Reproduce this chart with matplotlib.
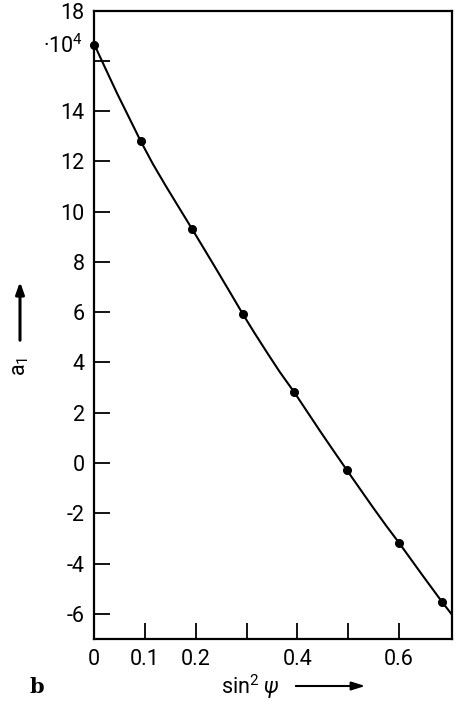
import matplotlib
matplotlib.use("Agg")
import matplotlib.pyplot as plt

# measured points
x_pts = [0.0, 0.091, 0.192, 0.293, 0.394, 0.497, 0.600, 0.685]
y_pts = [16.65, 12.82, 9.33, 5.91, 2.81, -0.26, -3.17, -5.53]

# fitted curve
x_curve = [0.0, 0.02, 0.045, 0.07, 0.091, 0.115, 0.14, 0.165, 0.192, 0.215,
           0.24, 0.265, 0.293, 0.315, 0.34, 0.365, 0.394, 0.42, 0.445, 0.47,
           0.497, 0.525, 0.55, 0.575, 0.600, 0.625, 0.645, 0.665, 0.685, 0.705]
y_curve = [16.65, 15.78, 14.70, 13.68, 12.82, 11.91, 11.05, 10.22, 9.33, 8.56,
           7.72, 6.87, 5.91, 5.19, 4.40, 3.63, 2.81, 2.02, 1.26, 0.52,
           -0.27, -1.08, -1.80, -2.50, -3.17, -3.87, -4.43, -4.98, -5.53, -6.05]

x_ticks = [0, 0.1, 0.2, 0.3, 0.4, 0.5, 0.6]
x_ticklabels = ["0", "0.1", "0.2", "", "0.4", "", "0.6"]
y_ticks = [-6, -4, -2, 0, 2, 4, 6, 8, 10, 12, 14, 16, 18]
y_ticklabels = ["-6", "-4", "-2", "0", "2", "4", "6", "8",
                "10", "12", "14", "", "18"]

plt.rcParams['font.family'] = ['Roboto', 'DejaVu Sans']
plt.rcParams['mathtext.fontset'] = 'custom'
plt.rcParams['mathtext.rm'] = 'Roboto'
plt.rcParams['mathtext.it'] = 'Roboto:italic'
fig = plt.figure(figsize=(4.56, 7.05), dpi=100)
ax = fig.add_axes([0.2068, 0.0936, 0.7851, 0.8914])

ax.plot(x_curve, y_curve, color='black', lw=1.5)
ax.plot(x_pts, y_pts, 'o', color='black', ms=5.5, clip_on=False)

ax.set_xlim(0, 0.705)
ax.set_ylim(-7, 18)
ax.set_xticks(x_ticks)
ax.set_xticklabels(x_ticklabels)
ax.set_yticks(y_ticks)
ax.set_yticklabels(y_ticklabels)
ax.tick_params(direction='in', length=11.5, width=1.3, labelsize=15.5, pad=7)
for s in ax.spines.values():
    s.set_linewidth(1.6)

# 10^4 multiplier label at the 16 tick
ax.text(-0.022, 16.6, "\u00b710$^4$", transform=ax.transData, ha='right',
        va='center', fontsize=15.5)

# y label with arrow
fig.text(21/456, 1 - 366/705, r"$\mathregular{a_1}$", rotation=90,
         ha='center', va='center', fontsize=15.5)
fig.patches.append(matplotlib.patches.FancyArrowPatch(
    (20/456, 1 - 343/705), (20/456, 1 - 279/705), transform=fig.transFigure,
    arrowstyle='-|>,head_length=7,head_width=2.5', color='black', lw=2.2))

# x label with arrow
fig.text(250/456, 1 - 687/705, r"sin$^2$ $\psi$", ha='center', va='center',
         fontsize=15.5)
fig.patches.append(matplotlib.patches.FancyArrowPatch(
    (293/456, 1 - 686/705), (368/456, 1 - 686/705), transform=fig.transFigure,
    arrowstyle='-|>,head_length=8,head_width=2.5', color='black', lw=1.5))

fig.text(37/456, 1 - 687/705, "b", fontweight='bold', family='DejaVu Serif',
         ha='center', va='center', fontsize=15)

fig.savefig("out.png", dpi=100)
